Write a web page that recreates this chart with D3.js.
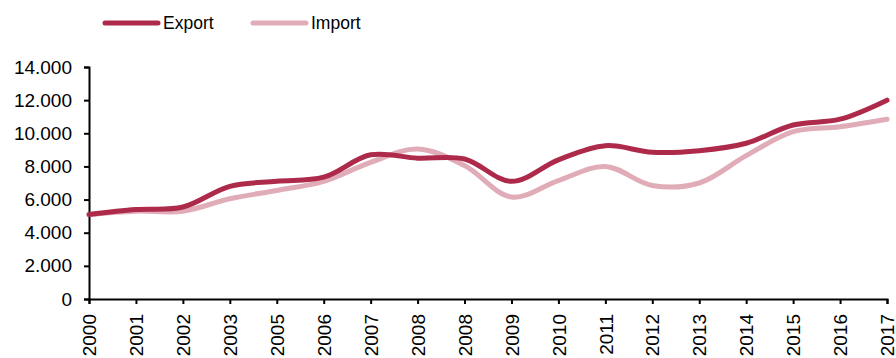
<!DOCTYPE html>
<html><head><meta charset="utf-8">
<script src="https://cdn.jsdelivr.net/npm/d3@7"></script>
<style>body{margin:0;background:#fff}svg{display:block}text{font-family:"Liberation Sans",Arial,sans-serif;fill:#000}</style>
</head><body><svg id="c" width="896" height="358"></svg>
<script>
const categories = ["2000","2001","2002","2003","2005","2006","2007","2008","2008","2009","2010","2011","2012","2013","2014","2015","2016","2017"];
const exportValues = [5100,5400,5550,6800,7100,7350,8700,8500,8450,7100,8400,9250,8850,8950,9400,10500,10850,12000];
const importValues = [5100,5300,5300,6050,6550,7100,8250,9050,8050,6150,7150,8000,6850,7000,8650,10100,10400,10850];
const yTicks = [0,2000,4000,6000,8000,10000,12000,14000];
const seriesNames = ["Export","Import"];
const colors = ["#AE2A4B","#E0ACB8"];

const svg = d3.select("#c");
const mLeft = 89, mRight = 887, mTop = 67, mBottom = 299;
const x = d3.scalePoint().domain(d3.range(categories.length)).range([mLeft, mRight]);
const y = d3.scaleLinear().domain([0,14000]).range([mBottom, mTop]);
const fmt = v => d3.format(",")(v).replace(/,/g, ".");

// y axis
const ya = svg.append("g").attr("transform", `translate(${mLeft},0)`)
  .call(d3.axisLeft(y).tickValues(yTicks).tickSize(5).tickPadding(12).tickFormat(fmt));
ya.select(".domain").attr("stroke","#000").attr("stroke-width",2);
ya.selectAll(".tick line").attr("stroke","#000").attr("stroke-width",2);
ya.selectAll("text").attr("font-size",19).attr("font-family",'"Liberation Sans",Arial,sans-serif').attr("fill","#000");

// x axis
const xa = svg.append("g").attr("transform", `translate(0,${mBottom})`)
  .call(d3.axisBottom(x).tickSize(5).tickFormat(i => categories[i]));
xa.select(".domain").attr("stroke","#000").attr("stroke-width",2);
xa.selectAll(".tick line").attr("stroke","#000").attr("stroke-width",2);
xa.selectAll("text").attr("font-size",19).attr("font-family",'"Liberation Sans",Arial,sans-serif').attr("fill","#000")
  .attr("transform","rotate(-90)").attr("text-anchor","end").attr("x",-15).attr("y",0).attr("dy","0.35em");

// lines
const line = d3.line().x((d,i)=>x(i)).y(d=>y(d)).curve(d3.curveCatmullRom.alpha(0.5));
const seriesData = [exportValues, importValues];
[1,0].forEach(idx => {
  svg.append("path").datum(seriesData[idx]).attr("d", line).attr("fill","none")
    .attr("stroke", colors[idx]).attr("stroke-width",5).attr("stroke-linecap","round").attr("stroke-linejoin","round");
});

// legend
const lg = [{x0:105, x1:158, tx:163},{x0:253, x1:306, tx:311}];
seriesNames.forEach((n,i) => {
  svg.append("line").attr("x1",lg[i].x0).attr("x2",lg[i].x1).attr("y1",23).attr("y2",23)
    .attr("stroke",colors[i]).attr("stroke-width",5).attr("stroke-linecap","round");
  svg.append("text").attr("x",lg[i].tx).attr("y",23).attr("dy","0.35em").attr("font-size",17.5).text(n);
});
</script></body></html>
